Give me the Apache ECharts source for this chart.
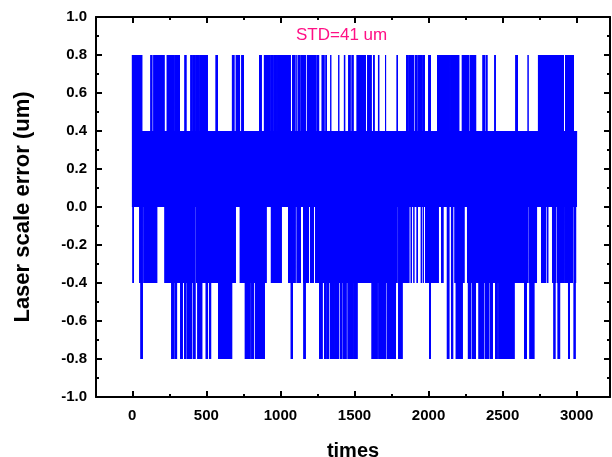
<!DOCTYPE html>
<html>
<head>
<meta charset="utf-8">
<script src="https://cdn.jsdelivr.net/npm/echarts@6/dist/echarts.min.js"></script>
<style>
html,body{margin:0;padding:0;background:#fff;}
#chart{width:612px;height:457px;}
</style>
</head>
<body>
<div id="chart"></div>
<script>
// ---- values (x in "times" units) ----
// x tick labels
const xMajorTicks = [0, 500, 1000, 1500, 2000, 2500, 3000];
const xMinorTicks = [250, 750, 1250, 1750, 2250, 2750];
// base band: the signal toggles between 0 and 0.4 over the whole record (0..3000)
const baseLow = 0.0;
const baseHigh = 0.4;
const recordLength = 3000;
// time ranges where the signal jumps up to +0.8
const highSpikes = [[0,64],[126,133],[145,214],[235,282],[289,318],[356,363],[395,404],[413,424],[431,446],[456,507],
  [566,575],[676,686],[701,724],[740,751],[859,870],[891,931],[938,950],[958,972],[981,1067],[1082,1096],[1105,1107],
  [1119,1132],[1141,1168],[1181,1240],[1249,1258],[1281,1294],[1308,1310],[1339,1341],[1393,1395],[1432,1434],
  [1461,1470],[1484,1491],[1518,1574],[1589,1612],[1630,1632],[1662,1664],[1709,1711],[1788,1790],[1851,1860],
  [1867,1900],[1912,1923],[1934,1957],[1964,1973],[2002,2013],[2061,2092],[2097,2140],[2150,2205],[2228,2272],
  [2284,2318],[2367,2381],[2392,2394],[2448,2450],[2590,2600],[2671,2673],[2742,2911],[2926,2938],[2945,2978]];
// time ranges where the signal drops to -0.4
const lowDips = [[5,7],[50,64],[79,165],[221,424],[435,661],[672,695],[728,904],[938,990],[965,1006],[1055,1067],
  [1078,1100],[1112,1135],[1157,1190],[1202,1224],[1236,1470],[1491,1788],[1799,1867],[1883,1885],[1900,1902],
  [1923,1925],[1951,1953],[1964,1966],[1980,2065],[2088,2097],[2126,2137],[2155,2164],[2178,2205],[2216,2239],
  [2262,2667],[2678,2730],[2762,2791],[2803,2805],[2836,2859],[2870,2915],[2922,2971],[2982,2994]];
// time ranges where the signal drops to -0.8
const deepDips = [[59,68],[266,280],[289,300],[327,338],[352,361],[370,402],[413,424],[442,469],[498,507],[521,530],
  [582,672],[762,796],[807,818],[830,891],[1073,1082],[1159,1168],[1265,1281],[1298,1308],[1315,1326],[1337,1359],
  [1366,1393],[1405,1416],[1427,1443],[1457,1479],[1484,1491],[1499,1518],[1619,1653],[1664,1709],[1720,1777],
  [1799,1822],[2006,2013],[2126,2137],[2155,2164],[2187,2228],[2268,2284],[2295,2318],[2340,2374],[2385,2408],
  [2419,2431],[2453,2464],[2475,2577],[2649,2661],[2685,2712],[2847,2854],[2874,2886],[2945,2952],[2982,2989]];
const levelHigh = 0.8, levelLow = -0.4, levelDeep = -0.8;
const annotation = 'STD=41 um';

// ---- build the sample series from the read ranges ----
function inRanges(list, t){ for (const r of list){ if (t >= r[0] && t <= r[1]) return true; } return false; }
const series = [];
for (let t = 0; t <= recordLength; t++) {
  const top = inRanges(highSpikes, t) ? levelHigh : baseHigh;
  const bottom = inRanges(deepDips, t) ? levelDeep : (inRanges(lowDips, t) ? levelLow : baseLow);
  series.push([t, t % 2 === 0 ? top : bottom]);
}

const FONT = 'Liberation Sans, Arial, sans-serif';
const XMIN = -245, XMAX = 3225;
const axisLineStyle = {color:'#000', width:2};
const chart = echarts.init(document.getElementById('chart'), null, {renderer:'canvas'});
chart.setOption({
  animation:false,
  backgroundColor:'#fff',
  grid:{left:96, right:2, top:17, bottom:60, containLabel:false, outerBoundsMode:'none'},
  xAxis:[
    {type:'value', position:'bottom', min:XMIN, max:XMAX,
     axisLine:{show:true, onZero:false, lineStyle:axisLineStyle},
     axisTick:{show:true, inside:true, length:6, lineStyle:{color:'#000', width:2}, customValues:xMajorTicks},
     axisLabel:{show:true, customValues:xMajorTicks, color:'#000', fontWeight:'bold', fontSize:15, fontFamily:FONT, margin:11,
       formatter:function(v){ return String(v); }},
     splitLine:{show:false},
     name:'times', nameLocation:'middle', nameGap:44,
     nameTextStyle:{color:'#000', fontWeight:'bold', fontSize:20, fontFamily:FONT}},
    {type:'value', position:'bottom', min:XMIN, max:XMAX,
     axisLine:{show:false, onZero:false},
     axisTick:{show:true, inside:true, length:3, lineStyle:{color:'#000', width:2}, customValues:xMinorTicks},
     axisLabel:{show:false}, splitLine:{show:false}},
    {type:'value', position:'top', min:XMIN, max:XMAX,
     axisLine:{show:true, onZero:false, lineStyle:axisLineStyle},
     axisTick:{show:true, inside:true, length:6, lineStyle:{color:'#000', width:2}, customValues:xMajorTicks},
     axisLabel:{show:false}, splitLine:{show:false}},
    {type:'value', position:'top', min:XMIN, max:XMAX,
     axisLine:{show:false, onZero:false},
     axisTick:{show:true, inside:true, length:3, lineStyle:{color:'#000', width:2}, customValues:xMinorTicks},
     axisLabel:{show:false}, splitLine:{show:false}}
  ],
  yAxis:[
    {type:'value', position:'left', min:-1, max:1, interval:0.2,
     axisLine:{show:true, onZero:false, lineStyle:axisLineStyle},
     axisTick:{show:true, inside:true, length:6, lineStyle:{color:'#000', width:2}},
     minorTick:{show:true, splitNumber:2, length:3, lineStyle:{color:'#000', width:2}},
     axisLabel:{color:'#000', fontWeight:'bold', fontSize:15, fontFamily:FONT, margin:9,
       formatter:function(v){ return v.toFixed(1); }},
     splitLine:{show:false},
     name:'Laser scale error (um)', nameLocation:'middle', nameRotate:90, nameGap:62,
     nameTextStyle:{color:'#000', fontWeight:'bold', fontSize:22, fontFamily:FONT}},
    {type:'value', position:'right', min:-1, max:1, interval:0.2,
     axisLine:{show:true, onZero:false, lineStyle:axisLineStyle},
     axisTick:{show:true, inside:true, length:6, lineStyle:{color:'#000', width:2}},
     minorTick:{show:true, splitNumber:2, length:3, lineStyle:{color:'#000', width:2}},
     axisLabel:{show:false}, splitLine:{show:false}}
  ],
  series:[{
    type:'line', xAxisIndex:0, yAxisIndex:0, data:series,
    showSymbol:false, symbol:'none', sampling:null,
    lineStyle:{color:'#0000FF', width:1}, itemStyle:{color:'#0000FF'},
    silent:true
  }],
  graphic:[{
    type:'text', left:296, top:27,
    style:{text:annotation, fill:'#FF1085', fontSize:17, fontFamily:FONT}
  }]
});
</script>
</body>
</html>
